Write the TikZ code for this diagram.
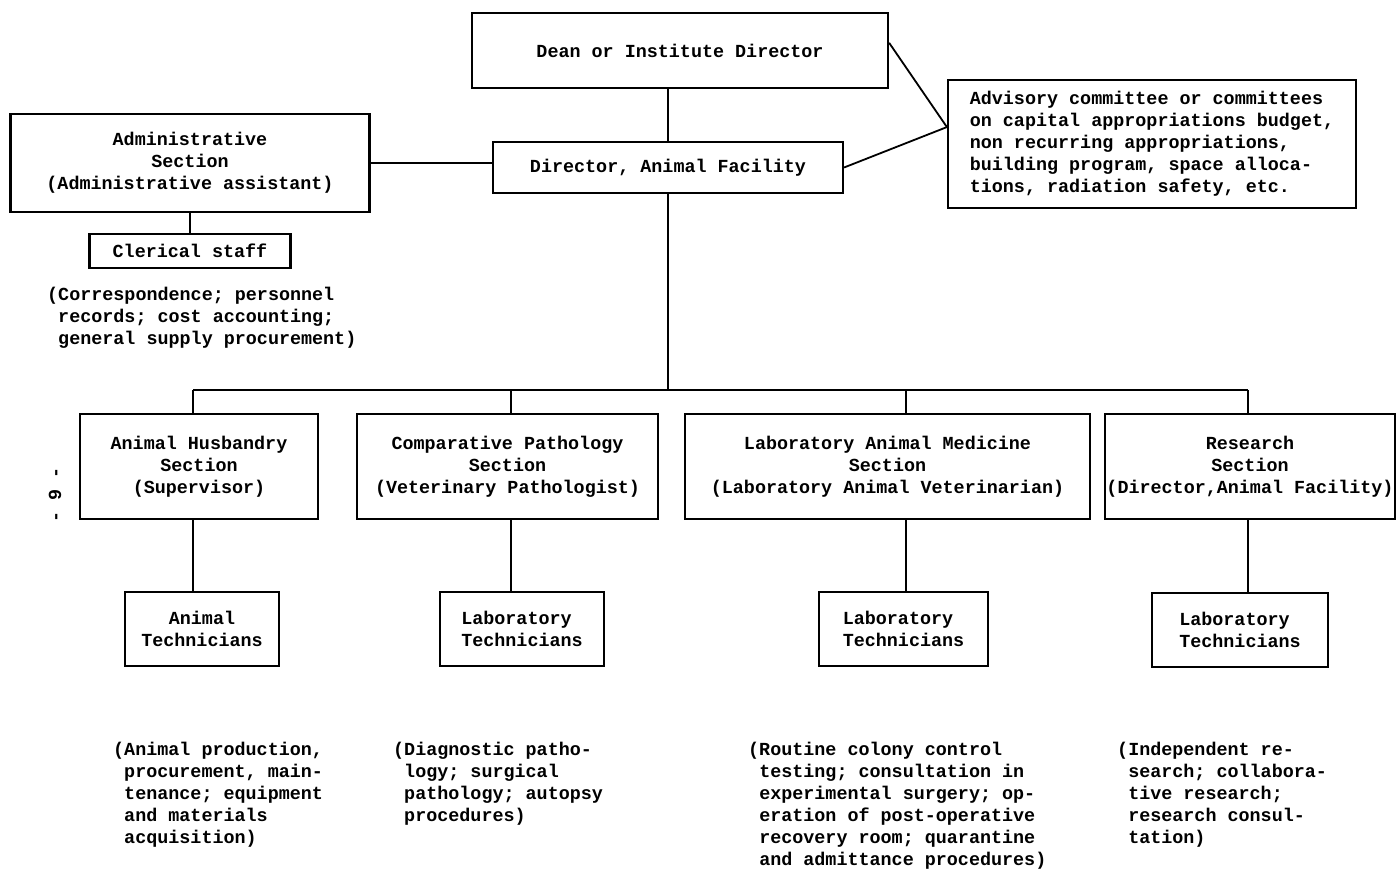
\documentclass[tikz,border=0pt]{standalone}
\usepackage{fontspec}
\setmainfont{Liberation Mono}
\usepackage{tikz}
\usetikzlibrary{positioning, calc}
\newcommand{\orgfont}{\fontsize{18.4}{22}\selectfont\bfseries}
\tikzset{
  unitbox/.style={rectangle, draw=black, line width=2.2pt,
    align=center, inner sep=0pt, font=\orgfont},
  secbox/.style={unitbox, minimum height=105pt},
  techbox/.style={unitbox, minimum height=74pt},
  note/.style={align=left, inner sep=0pt, font=\orgfont, anchor=north west},
  link/.style={line width=1.8pt, color=black}
}
\begin{document}
\begin{tikzpicture}[x=1pt, y=-1pt]
  \useasboundingbox (0,0) rectangle (1397,872);

  \node[unitbox, minimum width=416pt, minimum height=75pt] (dean) at (680,50.5) {Dean or Institute Director};
  \node[unitbox, minimum width=350pt, minimum height=51pt] (dir) at (668,167.5) {Director, Animal Facility};
  \node[unitbox, minimum width=359pt, minimum height=98pt] (admin) at (190,163)
    {Administrative\\Section\\(Administrative assistant)};
  \node[unitbox, minimum width=201pt, minimum height=34pt, below=20pt of admin] (clerk) {Clerical staff};
  \node[note] (clerknote) at (47,287)
    {(Correspondence; personnel\\\phantom{(}records; cost accounting;\\\phantom{(}general supply procurement)};
  \node[unitbox, align=left, minimum width=408pt, minimum height=128pt] (advis) at (1152,144)
    {Advisory committee or committees\\on capital appropriations budget,\\non recurring appropriations,\\building program, space alloca-\\tions, radiation safety, etc.};

  \node[secbox, minimum width=238pt] (husb) at (199,466.5) {Animal Husbandry\\Section\\(Supervisor)};
  \node[secbox, minimum width=301pt] (path) at (507.5,466.5) {Comparative Pathology\\Section\\(Veterinary Pathologist)};
  \node[secbox, minimum width=405pt] (med) at (887.5,466.5) {Laboratory Animal Medicine\\Section\\(Laboratory Animal Veterinarian)};
  \node[secbox, minimum width=290pt] (res) at (1250,466.5) {Research\\Section\\(Director,Animal Facility)};

  \node[techbox, minimum width=154pt] (husbtech) at (202,629) {Animal\\Technicians};
  \node[techbox, minimum width=164pt, align=left] (pathtech) at (522,629) {Laboratory\\Technicians};
  \node[techbox, minimum width=169pt, align=left] (medtech) at (903.5,629) {Laboratory\\Technicians};
  \node[techbox, minimum width=176pt, align=left] (restech) at (1240,630) {Laboratory\\Technicians};

  \node[note] (husbnote) at (113,742)
    {(Animal production,\\\phantom{(}procurement, main-\\\phantom{(}tenance; equipment\\\phantom{(}and materials\\\phantom{(}acquisition)};
  \node[note] (pathnote) at (393,742)
    {(Diagnostic patho-\\\phantom{(}logy; surgical\\\phantom{(}pathology; autopsy\\\phantom{(}procedures)};
  \node[note] (mednote) at (748,742)
    {(Routine colony control\\\phantom{(}testing; consultation in\\\phantom{(}experimental surgery; op-\\\phantom{(}eration of post-operative\\\phantom{(}recovery room; quarantine\\\phantom{(}and admittance procedures)};
  \node[note] (resnote) at (1117,742)
    {(Independent re-\\\phantom{(}search; collabora-\\\phantom{(}tive research;\\\phantom{(}research consul-\\\phantom{(}tation)};

  \node[font=\orgfont, rotate=90, inner sep=0pt] (pageno) at (55,495) {- 9 -};

  \coordinate (advin) at ($(advis.north west)!0.37!(advis.south west)$);
  \coordinate (bus) at (668,390);
  \coordinate (tap1) at (193,390);
  \coordinate (tap2) at (511,390);
  \coordinate (tap3) at (906,390);
  \coordinate (tap4) at (1248,390);

  \draw[link] (dir.north) -- (dir.north |- dean.south);
  \draw[link] (admin.east) -- (admin.east -| dir.west);
  \draw[link] (clerk.north) -- (clerk.north |- admin.south);
  \draw[link] ($(dean.north east)!0.4!(dean.south east)$) -- (advin);
  \draw[link] (dir.east) -- (advin);
  \draw[link] (dir.south) -- (bus);
  \draw[link] (tap1) -- (tap4);
  \foreach \t/\s/\c in {tap1/husb/husbtech, tap2/path/pathtech, tap3/med/medtech, tap4/res/restech} {
    \draw[link] (\t) -- (\t |- \s.north);
    \draw[link] (\t |- \s.south) -- (\t |- \c.north);
  }
\end{tikzpicture}
\end{document}
